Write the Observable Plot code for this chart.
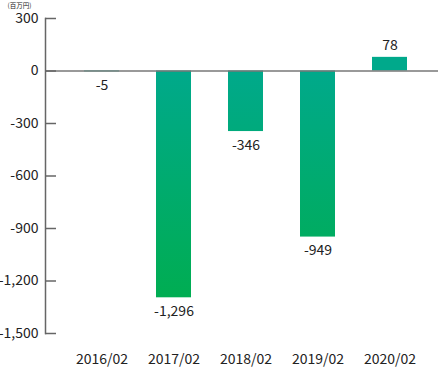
<!DOCTYPE html>
<html>
<head>
<meta charset="utf-8">
<script src="https://cdn.jsdelivr.net/npm/d3@7"></script>
<script src="https://cdn.jsdelivr.net/npm/@observablehq/plot@0.6"></script>
<style>
  html, body { margin: 0; padding: 0; background: #fff; }
  #chart svg { display: block; }
</style>
</head>
<body>
<div id="chart"></div>
<script>
const categories = ["2016/02", "2017/02", "2018/02", "2019/02", "2020/02"];
const values = [-5, -1296, -346, -949, 78];
const yTicks = [300, 0, -300, -600, -900, -1200, -1500];
const unitLabel = "(百万円)";

const data = categories.map((c, i) => ({ year: c, value: values[i] }));
const fmt = v => d3.format(",")(v).replace("\u2212", "-");
const font = "'Noto Sans CJK JP', 'Noto Sans', sans-serif";

const W = 438, H = 369, ML = 45, MR = 0, TICK = 11;

const gradient = (index, scales) => {
  const defs = d3.create("svg:defs");
  const g = defs.append("linearGradient")
    .attr("id", "barGrad")
    .attr("gradientUnits", "userSpaceOnUse")
    .attr("x1", 0).attr("x2", 0)
    .attr("y1", scales.y(0)).attr("y2", scales.y(d3.min(values)));
  g.append("stop").attr("offset", "0%").attr("stop-color", "#00a98b");
  g.append("stop").attr("offset", "100%").attr("stop-color", "#00ad52");
  return defs.node();
};

const plot = Plot.plot({
  width: W,
  height: H,
  marginLeft: ML,
  marginRight: MR,
  marginTop: 18,
  marginBottom: 36,
  style: { fontFamily: font, fontSize: "14px", color: "#222", background: "#fff" },
  x: { domain: categories, paddingInner: 0.51, paddingOuter: 0.255, insetLeft: 21, insetRight: 12 },
  y: { domain: [-1500, 300] },
  marks: [
    gradient,
    Plot.barY(data, { x: "year", y: "value", fill: "url(#barGrad)" }),
    Plot.ruleY([0], { stroke: "#777", strokeWidth: 1.5 }),
    Plot.tickY(yTicks, { y: d => d, insetRight: W - ML - MR - TICK, stroke: "#666", strokeWidth: 1.5 }),
    Plot.frame({ anchor: "left", stroke: "#666", strokeWidth: 1.5 }),
    Plot.axisY({ ticks: yTicks, tickSize: 0, tickPadding: 7, tickFormat: fmt, fontSize: 14, fill: "#222", label: null }),
    Plot.axisX({ tickSize: 0, tickPadding: 21, fontSize: 14, fill: "#222", label: null }),
    Plot.text(data.filter(d => d.value < 0), { x: "year", y: "value", text: d => fmt(d.value), lineAnchor: "top", dy: 8, fontSize: 14, fill: "#222" }),
    Plot.text(data.filter(d => d.value >= 0), { x: "year", y: "value", text: d => fmt(d.value), lineAnchor: "bottom", dy: -7, fontSize: 14, fill: "#222" }),
    Plot.text([unitLabel], { frameAnchor: "top-left", text: d => d, dx: -38, dy: -12.5, lineAnchor: "middle", textAnchor: "start", fontSize: 6.5, fill: "#222" })
  ]
});
document.getElementById("chart").appendChild(plot);
</script>
</body>
</html>
